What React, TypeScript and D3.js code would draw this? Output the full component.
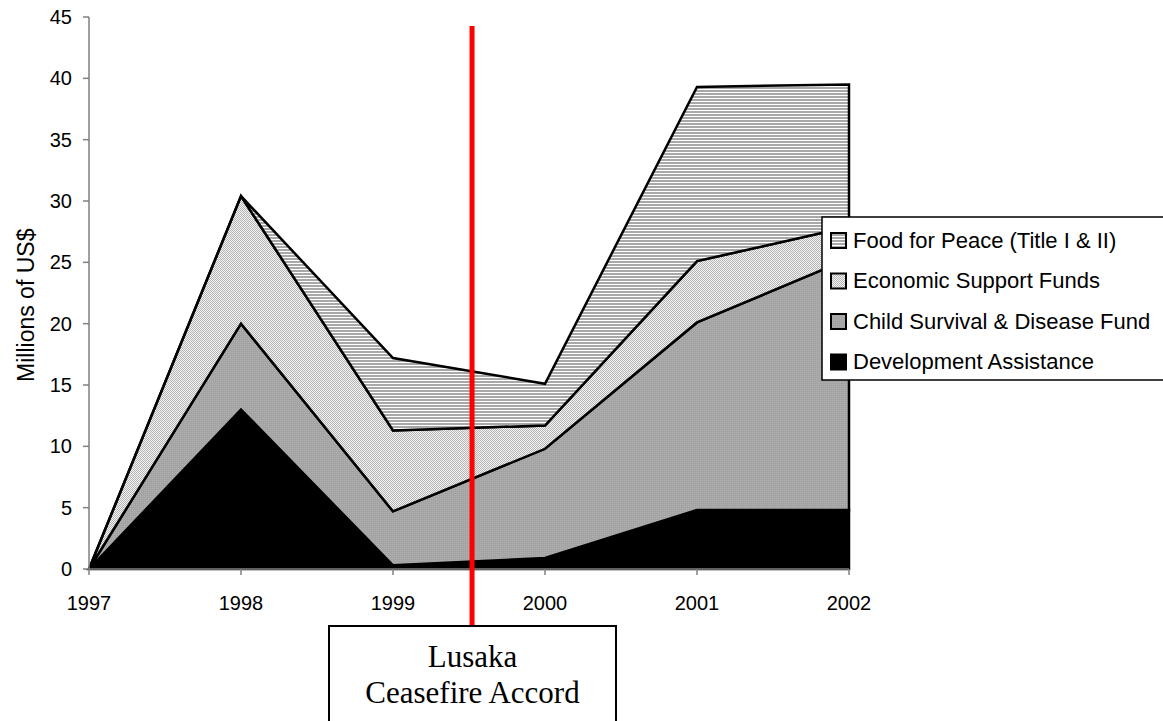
import React from 'react'
import * as d3 from 'd3'

const years = [1997, 1998, 1999, 2000, 2001, 2002]
const developmentAssistance = [0, 13, 0.3, 0.9, 4.8, 4.8]
const childSurvival = [0, 7, 4.4, 8.9, 15.3, 20.5]
const economicSupport = [0, 10.4, 6.6, 1.9, 5.0, 2.6]
const foodForPeace = [0, 0, 5.9, 3.4, 14.2, 11.6]
const yTicks = [0, 5, 10, 15, 20, 25, 30, 35, 40, 45]
const seriesNames = [
  'Development Assistance',
  'Child Survival & Disease Fund',
  'Economic Support Funds',
  'Food for Peace (Title I & II)',
]
const accordYear = 1999.52

const W = 1163
const H = 721

export default function App() {
  const x = d3.scaleLinear().domain([1997, 2002]).range([89, 849])
  const y = d3.scaleLinear().domain([0, 45]).range([569, 17])

  const rows = years.map((yr, i) => ({
    year: yr,
    da: developmentAssistance[i],
    cs: childSurvival[i],
    esf: economicSupport[i],
    ffp: foodForPeace[i],
  }))
  const stack = d3.stack<any>().keys(['da', 'cs', 'esf', 'ffp'])(rows)

  const area = d3
    .area<any>()
    .x((d) => x(d.data.year))
    .y0((d) => y(d[0]))
    .y1((d) => y(d[1]))

  const fills = ['#000000', 'url(#csPat)', 'url(#esfPat)', 'url(#ffpPat)']
  const font = 'Liberation Sans, Arial, sans-serif'
  const serif = 'Liberation Serif, Times New Roman, serif'

  // legend lists the top series first
  const legendItems = [3, 2, 1, 0]

  return (
    <div style={{ position: 'absolute', left: 0, top: 0 }}>
      <svg width={W} height={H} style={{ display: 'block', background: '#fff' }}>
        <defs>
          <pattern id="ffpPat" patternUnits="userSpaceOnUse" width={4} height={3}>
            <rect width={4} height={3} fill="#fff" />
            <rect width={4} height={2} fill="#a8a8a8" />
          </pattern>
          <pattern id="esfPat" patternUnits="userSpaceOnUse" width={2} height={2}>
            <rect width={2} height={2} fill="#f4f4f4" />
            <rect x={0} y={0} width={1} height={1} fill="#b4b4b4" />
            <rect x={1} y={1} width={1} height={1} fill="#b4b4b4" />
          </pattern>
          <pattern id="csPat" patternUnits="userSpaceOnUse" width={2} height={2}>
            <rect width={2} height={2} fill="#a4a4a4" />
            <rect x={0} y={0} width={1} height={1} fill="#b0b0b0" />
          </pattern>
        </defs>

        {/* stacked areas */}
        {stack.map((s, i) => (
          <path
            key={i}
            d={area(s as any) || ''}
            fill={fills[i]}
            stroke="#000"
            strokeWidth={2.5}
          />
        ))}

        {/* y axis */}
        <line x1={89} x2={89} y1={y(45)} y2={y(0)} stroke="#808080" strokeWidth={1.5} />
        {yTicks.map((t) => (
          <g key={t}>
            <line x1={83} x2={89} y1={y(t)} y2={y(t)} stroke="#808080" strokeWidth={1.5} />
            <text
              x={72}
              y={y(t)}
              dy="0.35em"
              textAnchor="end"
              fontFamily={font}
              fontSize={20}
              fill="#000"
            >
              {t}
            </text>
          </g>
        ))}

        {/* x axis */}
        <line x1={x(1997)} x2={x(2002)} y1={y(0)} y2={y(0)} stroke="#808080" strokeWidth={1.5} />
        {years.map((yr) => (
          <g key={yr}>
            <line x1={x(yr)} x2={x(yr)} y1={y(0)} y2={y(0) + 6} stroke="#808080" strokeWidth={1.5} />
            <text
              x={x(yr)}
              y={610}
              textAnchor="middle"
              fontFamily={font}
              fontSize={20}
              fill="#000"
            >
              {yr}
            </text>
          </g>
        ))}

        <text
          transform={`translate(34, ${y(21.5)}) rotate(-90)`}
          textAnchor="middle"
          fontFamily={font}
          fontSize={23}
          fill="#000"
        >
          Millions of US$
        </text>

        {/* ceasefire marker */}
        <line
          x1={x(accordYear)}
          x2={x(accordYear)}
          y1={26}
          y2={626}
          stroke="#ff0000"
          strokeWidth={5}
        />
        <rect x={329} y={626} width={287} height={110} fill="#fff" stroke="#000" strokeWidth={2} />
        <text x={472.5} y={667} textAnchor="middle" fontFamily={serif} fontSize={31} fill="#000">
          Lusaka
        </text>
        <text x={472.5} y={703} textAnchor="middle" fontFamily={serif} fontSize={31} fill="#000">
          Ceasefire Accord
        </text>

        {/* legend */}
        <rect x={822} y={217} width={345} height={163} fill="#fff" stroke="#000" strokeWidth={1.5} />
        {legendItems.map((si, j) => {
          const cy = 240 + j * 40.5
          return (
            <g key={si}>
              <rect
                x={831}
                y={cy - 7}
                width={15}
                height={15}
                fill={fills[si]}
                stroke="#000"
                strokeWidth={2}
              />
              <text x={853} y={cy} dy="0.35em" fontFamily={font} fontSize={22} fill="#000">
                {seriesNames[si]}
              </text>
            </g>
          )
        })}
      </svg>
    </div>
  )
}
